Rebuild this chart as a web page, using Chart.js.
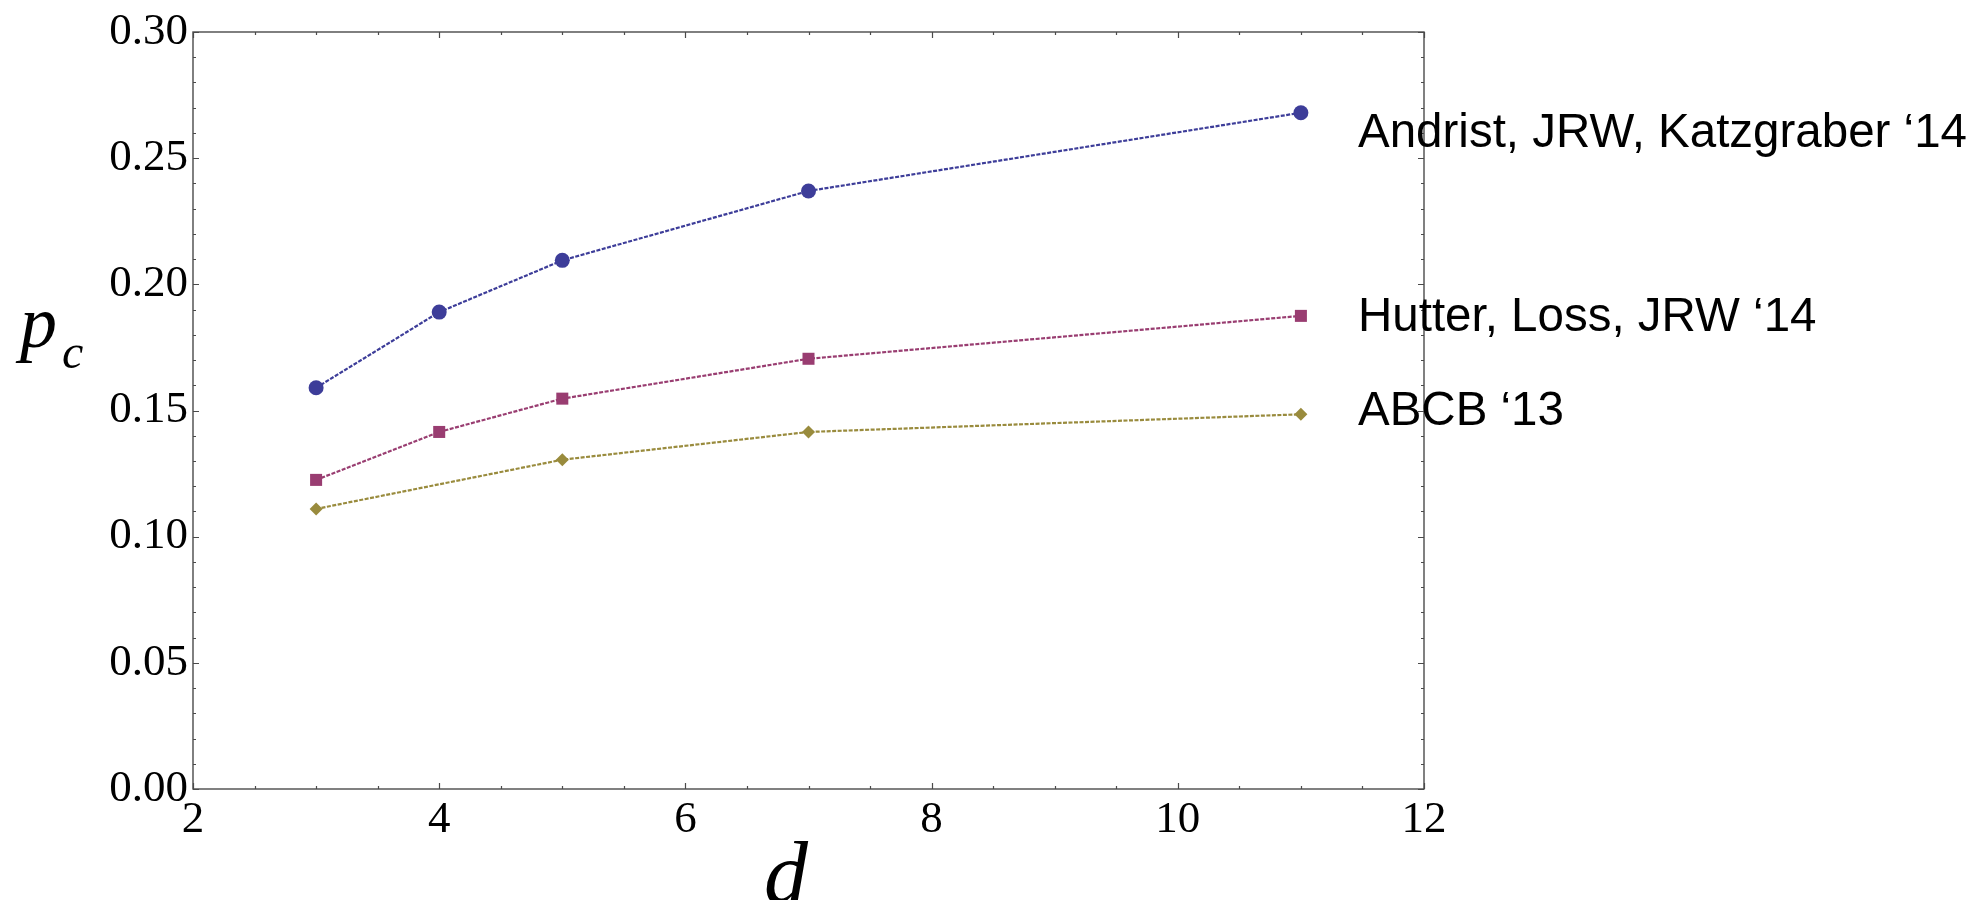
<!DOCTYPE html>
<html>
<head>
<meta charset="utf-8">
<script src="https://cdn.jsdelivr.net/npm/chart.js@4.4.0/dist/chart.umd.min.js"></script>
<style>
  html, body { margin: 0; padding: 0; background: #fff; }
  #wrap { width: 1981px; height: 900px; }
</style>
</head>
<body>
<div id="wrap"><canvas id="chart" width="1981" height="900"></canvas></div>
<script>
// critical error rate p_c against dimension d
const andristD = [3, 4, 5, 7, 11]
const andristPc = [0.159, 0.189, 0.2095, 0.237, 0.268]
const hutterD = [3, 4, 5, 7, 11]
const hutterPc = [0.1225, 0.1415, 0.1547, 0.1705, 0.1875]
const abcbD = [3, 5, 7, 11]
const abcbPc = [0.111, 0.1305, 0.1415, 0.1485]
const seriesNames = ['Andrist, JRW, Katzgraber \u201814', 'Hutter, Loss, JRW \u201814', 'ABCB \u201813']
const xTicks = [2, 4, 6, 8, 10, 12]
const yTicks = [0.00, 0.05, 0.10, 0.15, 0.20, 0.25, 0.30]

const toPoints = (xs, ys) => xs.map((d, i) => ({x: d, y: ys[i]}))

const series = [
  {name: seriesNames[0], data: toPoints(andristD, andristPc), color: '#3d3d99', style: 'circle', radius: 7.5},
  {name: seriesNames[1], data: toPoints(hutterD, hutterPc), color: '#993d71', style: 'rect', radius: 8.5},
  {name: seriesNames[2], data: toPoints(abcbD, abcbPc), color: '#998b3d', style: 'rectRot', radius: 6.5}
]

// frame with inward ticks on all four sides, like the original plot
const framePlugin = {
  id: 'frame',
  beforeDatasetsDraw(chart) {
    const {ctx, chartArea: a, scales: {x, y}} = chart
    ctx.save()
    ctx.strokeStyle = '#4a4a4a'
    ctx.lineWidth = 1.4
    ctx.strokeRect(a.left, a.top, a.right - a.left, a.bottom - a.top)
    ctx.beginPath()
    for (let v = xTicks[0]; v <= xTicks[xTicks.length - 1]; v += 0.5) {
      const px = Math.round(x.getPixelForValue(v)) + 0.5
      const len = v % 2 === 0 ? 6 : 3
      ctx.moveTo(px, a.bottom); ctx.lineTo(px, a.bottom - len)
      ctx.moveTo(px, a.top); ctx.lineTo(px, a.top + len)
    }
    for (let i = 0; i <= 30; i++) {
      const py = Math.round(y.getPixelForValue(i / 100)) + 0.5
      const len = i % 5 === 0 ? 6 : 3
      ctx.moveTo(a.left, py); ctx.lineTo(a.left + len, py)
      ctx.moveTo(a.right, py); ctx.lineTo(a.right - len, py)
    }
    ctx.lineWidth = 1.2
    ctx.stroke()
    ctx.restore()
  },
  afterDraw(chart) {
    const {ctx} = chart
    ctx.save()
    ctx.fillStyle = '#000'
    ctx.textBaseline = 'alphabetic'
    // axis titles
    ctx.font = 'italic 74px "Liberation Serif"'
    ctx.fillText('p', 20, 347)
    ctx.font = 'italic 48px "Liberation Serif"'
    ctx.fillText('c', 62, 368)
    ctx.font = 'italic 88px "Liberation Serif"'
    ctx.fillText('d', 764, 903)
    // series labels at the right
    ctx.font = '47.5px "Liberation Sans"'
    const baselines = [147, 331, 425]
    series.forEach((s, i) => ctx.fillText(s.name, 1358, baselines[i]))
    ctx.restore()
  }
}

new Chart(document.getElementById('chart'), {
  type: 'line',
  data: {
    datasets: series.map(s => ({
      label: s.name,
      data: s.data,
      borderColor: s.color,
      backgroundColor: s.color,
      borderWidth: 2.2,
      borderDash: [4, 1.5],
      pointStyle: s.style,
      pointRadius: s.radius,
      pointBorderWidth: 0,
      pointBackgroundColor: s.color,
      tension: 0
    }))
  },
  options: {
    responsive: false,
    animation: false,
    devicePixelRatio: 1,
    layout: {
      padding: {left: 0, top: 28, right: 557, bottom: 0}
    },
    plugins: {
      legend: {display: false},
      tooltip: {enabled: false}
    },
    scales: {
      x: {
        type: 'linear',
        min: xTicks[0],
        max: xTicks[xTicks.length - 1],
        afterBuildTicks: s => { s.ticks = xTicks.map(v => ({value: v})) },
        afterFit: s => { s.height = 111 },
        grid: {display: false, drawTicks: false},
        border: {display: false},
        ticks: {
          font: {family: 'Liberation Serif', size: 45},
          color: '#000',
          padding: 4,
          maxRotation: 0,
          callback: v => String(v)
        }
      },
      y: {
        type: 'linear',
        min: yTicks[0],
        max: yTicks[yTicks.length - 1],
        afterBuildTicks: s => { s.ticks = yTicks.map(v => ({value: v})) },
        afterFit: s => { s.width = 193 },
        grid: {display: false, drawTicks: false},
        border: {display: false},
        ticks: {
          font: {family: 'Liberation Serif', size: 45},
          color: '#000',
          padding: 5,
          callback: v => v.toFixed(2)
        }
      }
    }
  },
  plugins: [framePlugin]
})
</script>
</body>
</html>
